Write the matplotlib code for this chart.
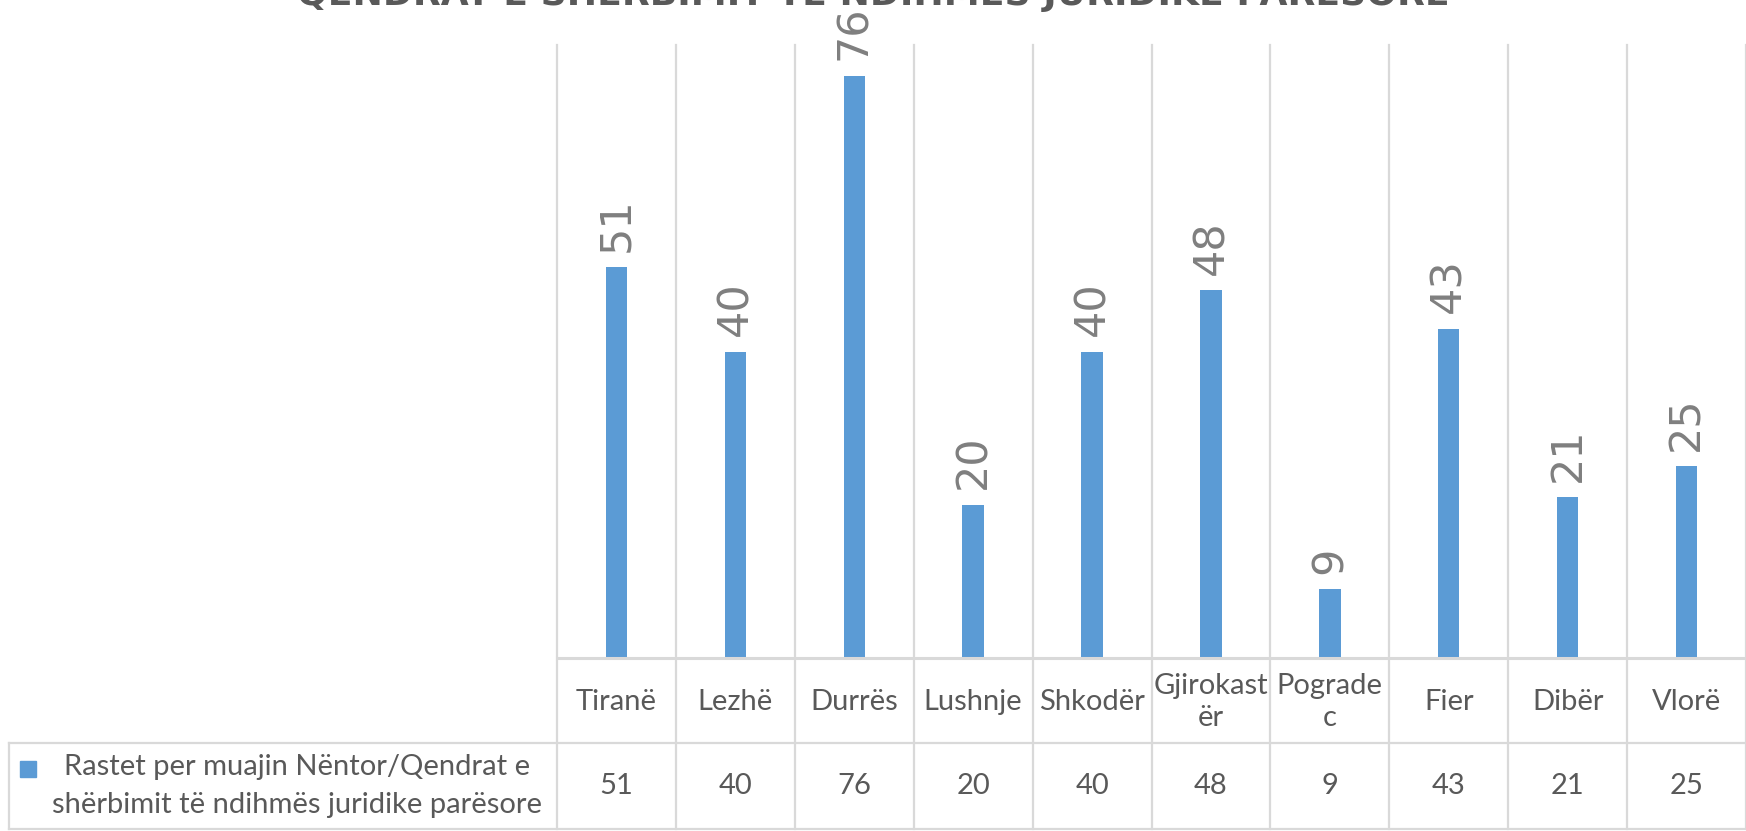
import numpy as np
import matplotlib.pyplot as plt
import matplotlib.transforms as mtransforms
from matplotlib.lines import Line2D
from matplotlib.patches import Rectangle

# data
categories = ['Tiranë', 'Lezhë', 'Durrës', 'Lushnje', 'Shkodër',
              'Gjirokast\nër', 'Pograde\nc', 'Fier', 'Dibër', 'Vlorë']
values = [51, 40, 76, 20, 40, 48, 9, 43, 21, 25]
series_name = 'Rastet per muajin Nëntor/Qendrat e\nshërbimit të ndihmës juridike parësore'
title = 'QENDRAT E SHËRBIMIT TË NDIHMËS JURIDIKE PARËSORE'

bar_color = '#5b9bd5'
grid_color = '#d9d9d9'
text_color = '#595959'
label_color = '#7f7f7f'

W, H = 1746, 831
fig = plt.figure(figsize=(W / 100, H / 100), dpi=100)

# plot area in pixels
left, right, top, base = 557, W, 45, 658
row1, row2 = 743, 829
ax = fig.add_axes([left / W, 1 - base / H, (right - left) / W, (base - top) / H])

x = np.arange(len(categories))
ax.bar(x, values, width=0.18, color=bar_color, zorder=3)
ax.set_xlim(-0.5, len(categories) - 0.5)
ax.set_ylim(0, 80)
ax.axis('off')

# value labels, rotated
for xi, v in zip(x, values):
    ax.annotate(str(v), (xi, v), xytext=(0, 11), textcoords='offset points',
                rotation=90, ha='center', va='bottom', fontsize=31,
                color=label_color, annotation_clip=False)

# table below the plot
ah = base - top
y_row1 = -(row1 - base) / ah
y_row2 = -(row2 - base) / ah
tr = mtransforms.blended_transform_factory(ax.transData, ax.transAxes)
ftr = mtransforms.blended_transform_factory(fig.transFigure, ax.transAxes)

for b in np.arange(-0.5, len(categories) + 0.5):
    ax.add_line(Line2D([b, b], [y_row2, 1], transform=tr, color=grid_color,
                       lw=1.6, clip_on=False, zorder=1))

leg_left = 9 / W
ax.add_line(Line2D([left / W, 1], [0, 0], transform=ftr, color=grid_color,
                   lw=2.2, clip_on=False, zorder=4))
for yy in (y_row1, y_row2):
    ax.add_line(Line2D([leg_left, 1], [yy, yy], transform=ftr, color=grid_color,
                       lw=1.6, clip_on=False))
ax.add_line(Line2D([leg_left, leg_left], [y_row1, y_row2], transform=ftr,
                   color=grid_color, lw=1.6, clip_on=False))

font = 'Lato'
for xi, c in zip(x, categories):
    ax.text(xi, y_row1 / 2 - 0.003, c, transform=tr, ha='center', va='center',
            fontsize=21, color=text_color, family=font, linespacing=1.3)
for xi, v in zip(x, values):
    ax.text(xi, (y_row1 + y_row2) / 2, str(v), transform=tr, ha='center',
            va='center', fontsize=21, color=text_color, family=font)

# legend cell
ymid = (y_row1 + y_row2) / 2
ax.text(297 / W, ymid, series_name, transform=ftr, ha='center', va='center',
        fontsize=21, color=text_color, family=font, linespacing=1.55)
sq = 16
fig.patches.append(Rectangle((20 / W, 1 - 777 / H), sq / W, sq / H,
                             transform=fig.transFigure, color=bar_color))

fig.text(0.5, 1 - 5 / H, title, ha='center', va='baseline', fontsize=26,
         fontweight='bold', color=text_color)

fig.savefig('out.png', dpi=100)
